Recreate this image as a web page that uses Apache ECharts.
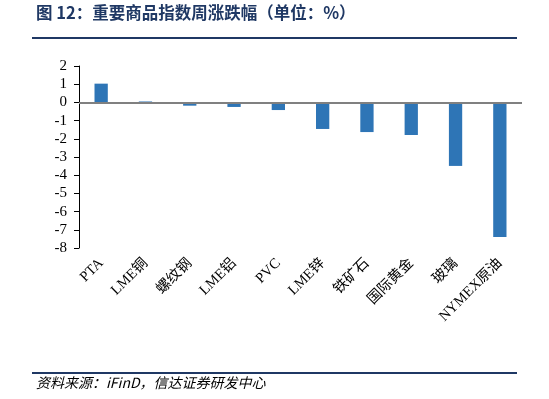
<!DOCTYPE html>
<html>
<head>
<meta charset="utf-8">
<script src="https://cdn.jsdelivr.net/npm/echarts@6/dist/echarts.min.js"></script>
<style>
  html, body { margin: 0; padding: 0; background: #fff; }
  #chart { width: 549px; height: 399px; }
</style>
</head>
<body>
<div id="chart"></div>
<script>
// 商品名称
const categories = ['PTA', 'LME铜', '螺纹钢', 'LME铝', 'PVC', 'LME锌', '铁矿石', '国际黄金', '玻璃', 'NYMEX原油']
// 周涨跌幅 (%)
const weeklyChange = [1.03, 0.05, -0.18, -0.25, -0.42, -1.46, -1.63, -1.79, -3.49, -7.4]
const yMin = -8
const yMax = 2
const yStep = 1

const titleText = '图 12：重要商品指数周涨跌幅（单位：%）'
const sourceText = '资料来源：iFinD，信达证券研发中心'

const serif = '"Liberation Serif", "Times New Roman", "Noto Sans CJK SC", serif'
const chart = echarts.init(document.getElementById('chart'))

chart.setOption({
  animation: false,
  backgroundColor: '#fff',
  grid: { left: 79, right: 27, top: 66, bottom: 151 },
  graphic: [
    {
      type: 'text', left: 36, top: 4,
      style: {
        text: titleText,
        fill: '#1f3864',
        font: 'bold 16.5px "Noto Sans CJK SC", sans-serif'
      }
    },
    {
      type: 'rect', shape: { x: 32, y: 37, width: 485, height: 2 },
      style: { fill: '#1f3864' }
    },
    {
      type: 'rect', shape: { x: 32, y: 372, width: 485, height: 2 },
      style: { fill: '#1f3864' }
    },
    {
      type: 'text', left: 36, top: 376,
      style: {
        text: sourceText,
        fill: '#000',
        font: 'italic 14px "Noto Sans CJK SC", sans-serif'
      }
    }
  ],
  xAxis: {
    type: 'category',
    data: categories,
    position: 'bottom',
    axisLine: { show: false, onZero: false },
    axisTick: { show: false },
    axisLabel: {
      rotate: 45,
      margin: 13,
      interval: 0,
      color: '#000',
      fontSize: 14.5,
      fontFamily: serif
    }
  },
  yAxis: {
    type: 'value',
    min: yMin,
    max: yMax,
    interval: yStep,
    splitLine: { show: false },
    axisLine: { show: true, lineStyle: { color: '#000', width: 1 } },
    axisTick: { show: true, length: 5, lineStyle: { color: '#000' } },
    axisLabel: {
      color: '#000',
      fontSize: 15,
      fontFamily: serif,
      margin: 12
    }
  },
  series: [
    {
      type: 'bar',
      data: weeklyChange,
      barWidth: '30%',
      itemStyle: { color: '#2e75b6' },
      markLine: {
        silent: true,
        symbol: 'none',
        label: { show: false },
        lineStyle: { color: '#808080', width: 2, type: 'solid' },
        data: [{ yAxis: 0 }]
      }
    }
  ]
})
</script>
</body>
</html>
